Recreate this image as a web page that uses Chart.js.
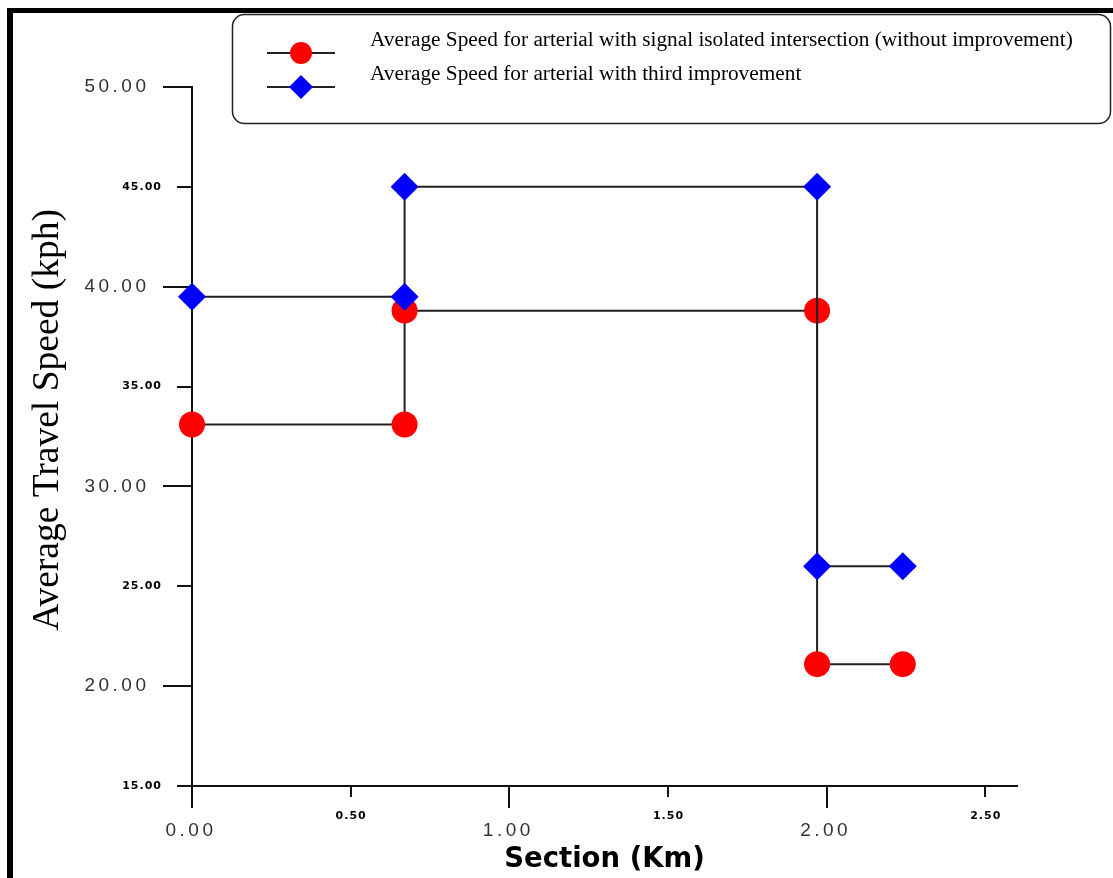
<!DOCTYPE html>
<html>
<head>
<meta charset="utf-8">
<title>Average Travel Speed</title>
<script src="https://cdn.jsdelivr.net/npm/chart.js@4.4.1/dist/chart.umd.min.js"></script>
<style>
html, body { margin: 0; padding: 0; background: #fff; }
#wrap { position: relative; width: 1113px; height: 878px; overflow: hidden; }
#frame { position: absolute; left: 7px; top: 8px; right: -10px; bottom: -10px;
         border-top: 5px solid #000; border-left: 6px solid #000; pointer-events: none; }
</style>
</head>
<body>
<div id="wrap">
  <canvas id="speedChart" width="1113" height="878"></canvas>
  <div id="frame"></div>
</div>
<script>
// section positions (km) where the speed changes
const sectionKm = [0, 0.67, 0.67, 1.97, 1.97, 2.24];
const speedWithout = [33.1, 33.1, 38.8, 38.8, 21.1, 21.1];
const speedThird = [39.5, 39.5, 45, 45, 26, 26];
const seriesLabels = [
    'Average Speed for arterial with signal isolated intersection (without improvement)',
    'Average Speed for arterial with third improvement'
];
const yTickValues = [15, 20, 25, 30, 35, 40, 45, 50];
const yTickLabels = ['15.00', '20.00', '25.00', '30.00', '35.00', '40.00', '45.00', '50.00'];
const xTickValues = [0, 0.5, 1, 1.5, 2, 2.5];
const xTickLabels = ['0.00', '0.50', '1.00', '1.50', '2.00', '2.50'];
const xTitle = 'Section (Km)';
const yTitle = 'Average Travel Speed (kph)';

function toPoints(xs, ys) {
    return xs.map(function(x, i) { return { x: x, y: ys[i] }; });
}

// tick marks, labels, titles and the legend box
const axisDecor = {
    id: 'axisDecor',
    beforeDatasetsDraw: function(chart) {
        const ctx = chart.ctx;
        const xs = chart.scales.x, ys = chart.scales.y;
        const area = chart.chartArea;
        ctx.save();
        ctx.strokeStyle = '#111';
        ctx.lineWidth = 2;
        ctx.beginPath();
        yTickValues.forEach(function(v) {
            const py = Math.round(ys.getPixelForValue(v));
            const len = v % 10 === 0 ? 29 : 15;
            ctx.moveTo(area.left - len, py);
            ctx.lineTo(area.left, py);
        });
        xTickValues.forEach(function(v) {
            const px = Math.round(xs.getPixelForValue(v));
            const len = Number.isInteger(v) ? 22 : 11;
            ctx.moveTo(px, area.bottom);
            ctx.lineTo(px, area.bottom + len);
        });
        ctx.stroke();
        ctx.restore();
    },
    afterDraw: function(chart) {
        const ctx = chart.ctx;
        const xs = chart.scales.x, ys = chart.scales.y;
        const area = chart.chartArea;
        ctx.save();
        ctx.textBaseline = 'middle';

        // y tick labels
        yTickValues.forEach(function(v, i) {
            const py = ys.getPixelForValue(v);
            ctx.textAlign = 'right';
            if (v % 10 === 0) {
                ctx.font = '19px "Liberation Sans"';
                ctx.letterSpacing = '3.5px';
                ctx.fillStyle = '#333';
                ctx.fillText(yTickLabels[i], 149.5, py);
            } else {
                ctx.font = 'bold 11px "DejaVu Sans"';
                ctx.letterSpacing = '1px';
                ctx.fillStyle = '#000';
                ctx.fillText(yTickLabels[i], 162, py);
            }
        });
        // x tick labels
        xTickValues.forEach(function(v, i) {
            const px = xs.getPixelForValue(v);
            ctx.textAlign = 'center';
            if (Number.isInteger(v)) {
                ctx.font = '19px "Liberation Sans"';
                ctx.letterSpacing = '3.5px';
                ctx.fillStyle = '#333';
                ctx.fillText(xTickLabels[i], px - 1, 831);
            } else {
                ctx.font = 'bold 11px "DejaVu Sans"';
                ctx.letterSpacing = '1px';
                ctx.fillStyle = '#000';
                ctx.fillText(xTickLabels[i], px + 0.5, 816);
            }
        });
        ctx.letterSpacing = '0px';

        // axis titles
        ctx.fillStyle = '#000';
        ctx.textAlign = 'center';
        ctx.font = 'bold 27.5px "DejaVu Sans"';
        ctx.fillText(xTitle, (area.left + area.right) / 2, 860);
        ctx.save();
        ctx.translate(48, 420);
        ctx.rotate(-Math.PI / 2);
        ctx.font = '37.5px "Liberation Serif"';
        ctx.fillText(yTitle, 0, 0);
        ctx.restore();

        // legend
        ctx.strokeStyle = '#222';
        ctx.lineWidth = 1.5;
        ctx.beginPath();
        ctx.roundRect(232.5, 14.5, 878, 109, 12);
        ctx.stroke();
        const rows = [53, 87];
        chart.data.datasets.forEach(function(ds, i) {
            const y = rows[i];
            ctx.strokeStyle = '#222';
            ctx.lineWidth = 2;
            ctx.beginPath();
            ctx.moveTo(267, y);
            ctx.lineTo(335, y);
            ctx.stroke();
            ctx.fillStyle = ds.pointBackgroundColor;
            Chart.helpers.drawPoint(ctx, {
                pointStyle: ds.pointStyle,
                radius: i === 0 ? 11 : 12,
                rotation: 0,
                borderWidth: 0
            }, 301, y);
            ctx.fillStyle = '#000';
            ctx.textAlign = 'left';
            ctx.textBaseline = 'alphabetic';
            ctx.font = '21.3px "Liberation Serif"';
            ctx.fillText(ds.label, 370, i === 0 ? 46 : 80);
        });
        ctx.restore();
    }
};

new Chart(document.getElementById('speedChart'), {
    type: 'scatter',
    data: {
        datasets: [{
            label: seriesLabels[0],
            data: toPoints(sectionKm, speedWithout),
            showLine: true,
            borderColor: '#222',
            borderWidth: 2,
            pointStyle: 'circle',
            pointRadius: 13,
            pointHoverRadius: 13,
            pointBackgroundColor: '#ff0000',
            pointBorderWidth: 0,
            clip: false,
            order: 1
        }, {
            label: seriesLabels[1],
            data: toPoints(sectionKm, speedThird),
            showLine: true,
            borderColor: '#222',
            borderWidth: 2,
            pointStyle: 'rectRot',
            pointRadius: 14,
            pointHoverRadius: 14,
            pointBackgroundColor: '#0000ff',
            pointBorderWidth: 0,
            clip: false,
            order: 0
        }]
    },
    options: {
        responsive: false,
        animation: false,
        layout: {
            autoPadding: false,
            padding: { left: 0, top: 87, right: 96, bottom: 0 }
        },
        plugins: {
            legend: { display: false },
            tooltip: { enabled: false }
        },
        events: [],
        scales: {
            x: {
                type: 'linear',
                min: 0,
                max: 2.6,
                grid: { display: false },
                border: { display: true, color: '#111', width: 2 },
                ticks: { display: false, stepSize: 0.5 },
                afterFit: function(scale) { scale.height = 92; }
            },
            y: {
                type: 'linear',
                min: 15,
                max: 50,
                grid: { display: false },
                border: { display: true, color: '#111', width: 2 },
                ticks: { display: false, stepSize: 5 },
                afterFit: function(scale) { scale.width = 192; }
            }
        }
    },
    plugins: [axisDecor]
});
</script>
</body>
</html>
